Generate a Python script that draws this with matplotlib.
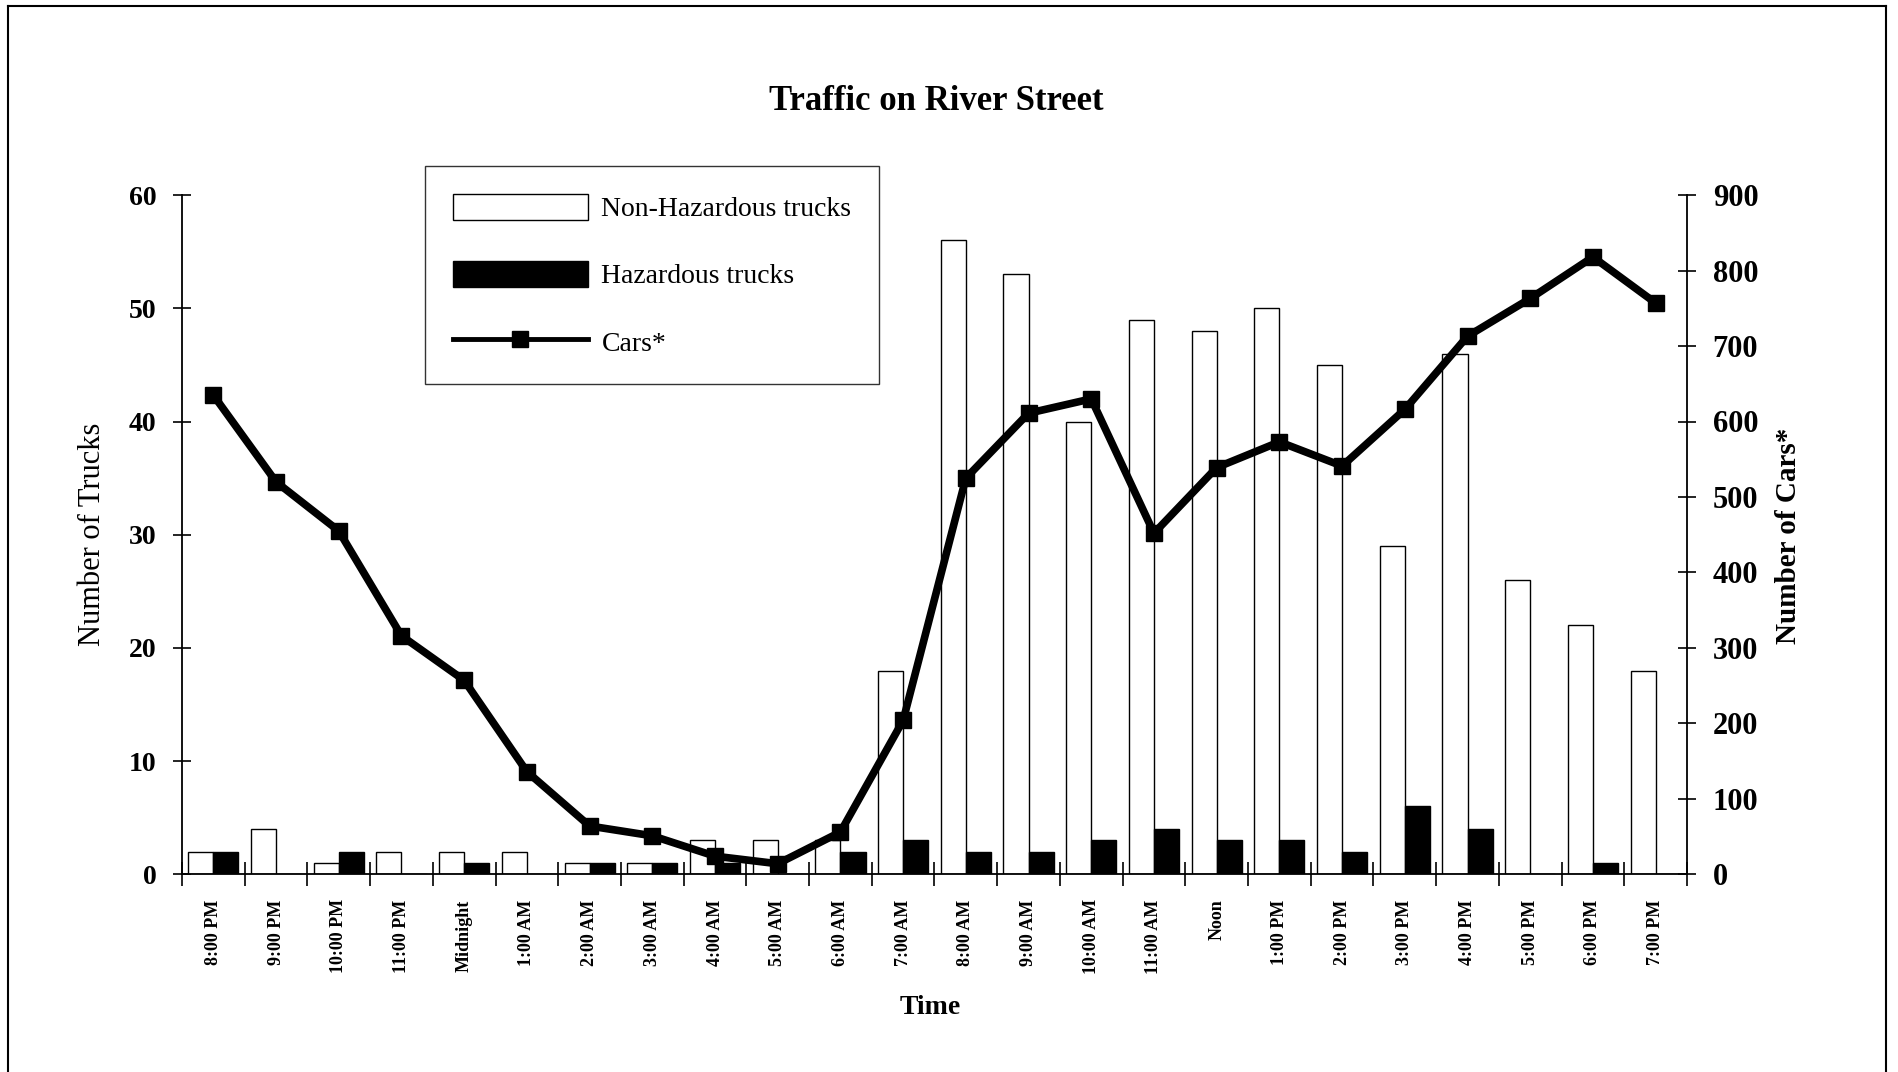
import matplotlib
matplotlib.use("Agg")
import matplotlib.pyplot as plt
import numpy as np
from matplotlib.patches import Patch
from matplotlib.lines import Line2D

plt.rcParams['font.family'] = ['Liberation Serif', 'DejaVu Serif']

times = ["8:00 PM", "9:00 PM", "10:00 PM", "11:00 PM", "Midnight", "1:00 AM",
         "2:00 AM", "3:00 AM", "4:00 AM", "5:00 AM", "6:00 AM", "7:00 AM",
         "8:00 AM", "9:00 AM", "10:00 AM", "11:00 AM", "Noon", "1:00 PM",
         "2:00 PM", "3:00 PM", "4:00 PM", "5:00 PM", "6:00 PM", "7:00 PM"]
non_hazardous = [2, 4, 1, 2, 2, 2, 1, 1, 3, 3, 3, 18, 56, 53, 40, 49, 48, 50,
                 45, 29, 46, 26, 22, 18]
hazardous = [2, 0, 2, 0, 1, 0, 1, 1, 1, 0, 2, 3, 2, 2, 3, 4, 3, 3, 2, 6, 4, 0, 1, 0]
cars = [635, 520, 455, 316, 257, 136, 64, 51, 24, 14, 56, 204, 525, 611, 630,
        452, 539, 573, 541, 616, 713, 763, 818, 757]

W, H = 1899, 1072
fig = plt.figure(figsize=(W / 100, H / 100), dpi=100)
L, R, B, T = 182, 1687, 874.3, 195.1
ax = fig.add_axes([L / W, 1 - B / H, (R - L) / W, (B - T) / H])
ax2 = ax.twinx()

x = np.arange(len(times))
bw = 0.4
ax.bar(x - bw / 2, non_hazardous, width=bw, facecolor='white', edgecolor='black',
       linewidth=1.0, zorder=2)
ax.bar(x + bw / 2, hazardous, width=bw, facecolor='black', edgecolor='black',
       linewidth=1.0, zorder=2)
ax2.plot(x, cars, color='black', linewidth=5.5, marker='s', markersize=12,
         markerfacecolor='black', markeredgecolor='black', zorder=3)

ax.set_xlim(-0.5, len(times) - 0.5)
ax.set_ylim(0, 60)
ax2.set_ylim(0, 900)
ax.set_yticks(np.arange(0, 61, 10))
ax2.set_yticks(np.arange(0, 901, 100))

ax.set_xticks(x)
ax.set_xticklabels(times, rotation=90, fontsize=13, fontweight='bold', va='top', ha='center')
ax.set_xticks(np.arange(-0.5, len(times), 1.0), minor=True)
ax.tick_params(axis='x', which='major', length=0, pad=18)
ax.tick_params(axis='x', which='minor', direction='inout', length=17, width=1.2)
ax.tick_params(axis='y', direction='inout', length=13, width=1.2, labelsize=20, pad=12)
ax2.tick_params(axis='y', direction='inout', length=13, width=1.2, labelsize=22, pad=12)
for lab in ax.get_yticklabels():
    lab.set_fontweight('bold')
for lab in ax2.get_yticklabels():
    lab.set_fontweight('bold')

for a in (ax, ax2):
    a.spines['top'].set_visible(False)
    a.patch.set_visible(False)
ax.spines['right'].set_visible(False)
ax2.spines['left'].set_visible(False)
ax2.spines['bottom'].set_visible(False)
for s in ('left', 'bottom'):
    ax.spines[s].set_linewidth(1.3)
ax2.spines['right'].set_linewidth(1.3)

fig.text(936 / W, 1 - 101 / H, "Traffic on River Street", ha='center', va='center',
         fontsize=25, fontweight='bold')
fig.text(930 / W, 1 - 1007 / H, "Time", ha='center', va='center', fontsize=20,
         fontweight='bold')
fig.text(93 / W, 1 - 534 / H, "Number of Trucks", ha='center', va='center',
         rotation=90, fontsize=22)
fig.text(1789 / W, 1 - 536 / H, "Number of Cars*", ha='center', va='center',
         rotation=90, fontsize=21, fontweight='bold')

handles = [Patch(facecolor='white', edgecolor='black', linewidth=1.0),
           Patch(facecolor='black', edgecolor='black', linewidth=1.0),
           Line2D([], [], color='black', linewidth=3.5, marker='s', markersize=11)]
leg = fig.legend(handles, ["Non-Hazardous trucks", "Hazardous trucks", "Cars*"],
                 loc='upper left', bbox_to_anchor=(425 / W, 1 - 166 / H),
                 bbox_transform=fig.transFigure, fontsize=20, frameon=True,
                 fancybox=False, shadow=False, borderaxespad=0, borderpad=1.0,
                 handlelength=4.85, handleheight=1.05, handletextpad=0.5,
                 labelspacing=1.4)
leg.get_frame().set_edgecolor('black')
leg.get_frame().set_linewidth(1.0)

# scanned page frame
fig.add_artist(Line2D([8 / W, 8 / W], [0, 1 - 6 / H], transform=fig.transFigure,
                      color='black', linewidth=1.5))
fig.add_artist(Line2D([8 / W, 1886 / W], [1 - 6 / H, 1 - 6 / H], transform=fig.transFigure,
                      color='black', linewidth=1.5))
fig.add_artist(Line2D([1886 / W, 1886 / W], [0, 1 - 6 / H], transform=fig.transFigure,
                      color='black', linewidth=1.5))

fig.savefig("out.png", dpi=100, facecolor='white')
